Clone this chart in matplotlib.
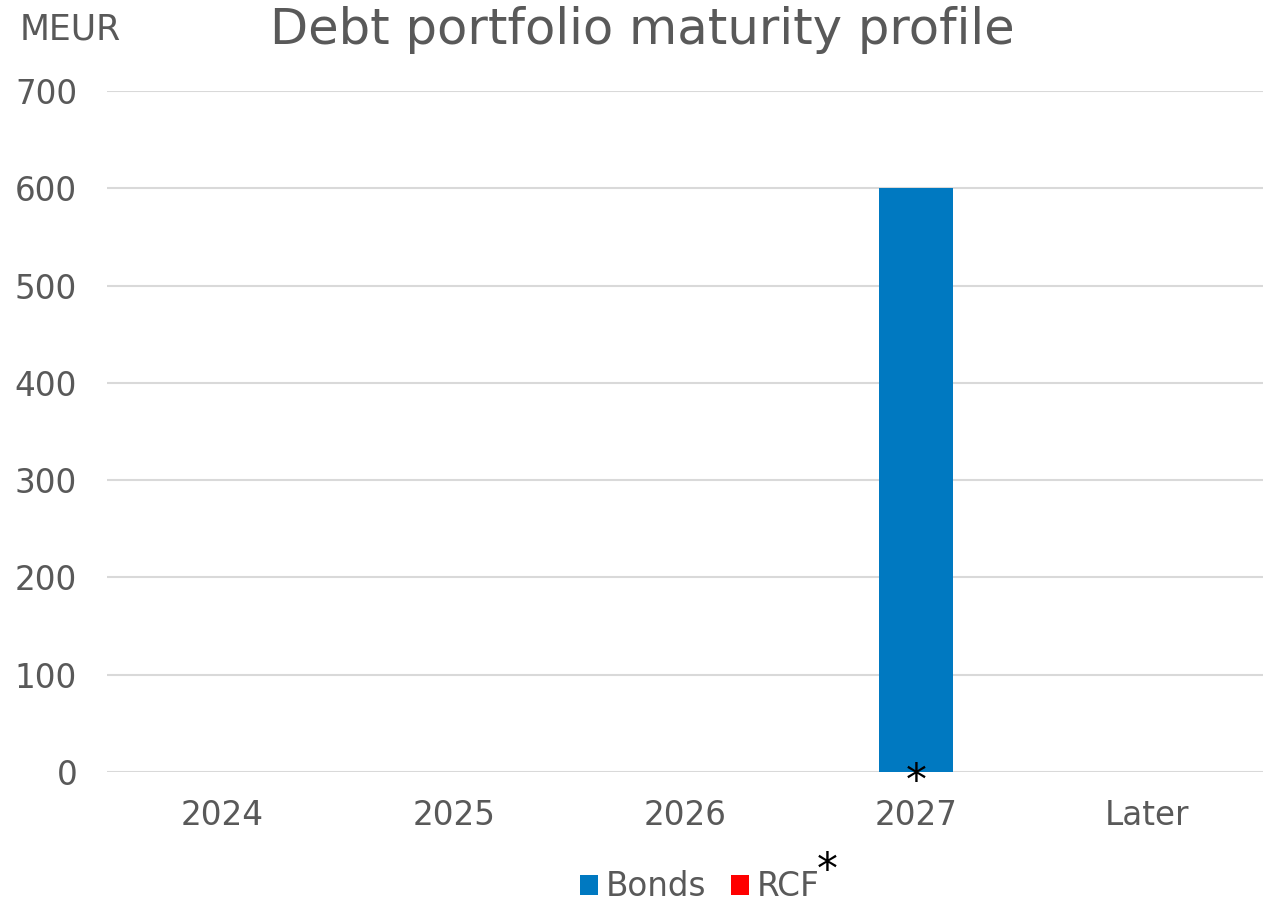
import numpy as np
import matplotlib.pyplot as plt

categories = ["2024", "2025", "2026", "2027", "Later"]
bonds = [0, 0, 0, 600, 0]
rcf = [0, 0, 0, 0, 0]
y_ticks = [0, 100, 200, 300, 400, 500, 600, 700]

grey = "#595959"
plt.rcParams['font.family'] = ['DejaVu Sans']

fig = plt.figure(figsize=[12.73, 9.01], dpi=100)
ax = fig.add_axes([107 / 1273, 1 - 772 / 901, (1263 - 107) / 1273, (772 - 91) / 901])

x = np.arange(len(categories))
ax.bar(x, bonds, width=0.32, color="#0079C1", label="Bonds", zorder=3)
ax.bar(x, rcf, width=0.32, bottom=bonds, color="#FF0000", label="RCF", zorder=3)

ax.set_xlim(-0.5, len(categories) - 0.5)
ax.set_ylim(0, 700)
ax.set_yticks(y_ticks)
ax.set_xticks(x)
ax.set_xticklabels(categories)
ax.tick_params(axis='both', length=0, labelsize=23.5, labelcolor=grey)
ax.tick_params(axis='x', pad=19.5)
ax.tick_params(axis='y', pad=21.5)

ax.grid(axis='y', color="#D9D9D9", linewidth=1.5, zorder=0)
for s in ax.spines.values():
	s.set_visible(False)
ax.axhline(0, color="#D9D9D9", linewidth=2, zorder=2)

# asterisk under the 2027 bar
ax.annotate("*", xy=(3, 0), xytext=(0, -7), textcoords='offset points', ha='center', va='center',
	fontsize=30, color='black', zorder=4)

fig.text(20 / 1273, 1 - 30 / 901, "MEUR", fontsize=25, color=grey, va='center', ha='left')
fig.text(642 / 1273, 1 - 30 / 901, "Debt portfolio maturity profile", fontsize=35.7,
	color=grey, va='center', ha='center')

leg = fig.legend(loc='center', bbox_to_anchor=(700 / 1273, 1 - 887 / 901), ncol=2, frameon=False,
	fontsize=23.5, handlelength=0.55, handleheight=0.55, handletextpad=0.25, columnspacing=0.75,
	labelcolor=grey)
fig.text(827 / 1273, 1 - 871 / 901, "*", fontsize=30, color='black', ha='center', va='center')

fig.savefig("out.png", dpi=100)
